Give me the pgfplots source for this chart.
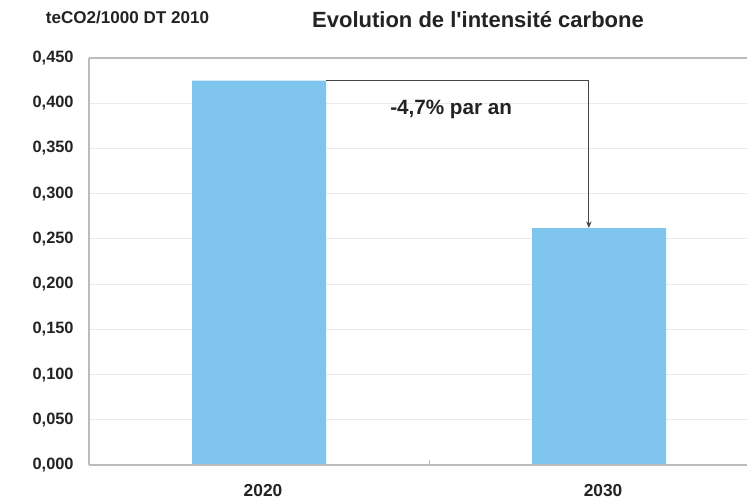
\documentclass[border=0pt]{standalone}
\usepackage{fontspec}
\setmainfont{Liberation Sans}
\usepackage{pgfplots}
\usepackage{pgfplotstable}
\pgfplotsset{compat=1.18}
\usetikzlibrary{arrows.meta}

\definecolor{barblue}{RGB}{128,197,238}
\definecolor{gridgray}{RGB}{234,234,234}
\definecolor{framegray}{RGB}{188,188,188}
\definecolor{txt}{RGB}{35,35,35}

% Carbon intensity (teCO2 per 1000 DT of 2010)
\pgfplotstableread{
x val
0 0.425
1 0.262
}\intensite

\begin{document}
\begin{tikzpicture}
\begin{axis}[
  at={(66.75pt,26.25pt)}, anchor=south west,
  scale only axis,
  width=493.5pt, height=305.25pt,
  xmin=-0.5, xmax=1.435,
  ymin=0, ymax=0.45,
  ybar, bar width=100.5pt,
  xtick={0,1}, xticklabels={2020,2030},
  ytick={0,0.05,0.10,0.15,0.20,0.25,0.30,0.35,0.40,0.45},
  /pgf/number format/assume math mode=true,
  /pgf/number format/fixed,
  /pgf/number format/fixed zerofill,
  /pgf/number format/precision=3,
  /pgf/number format/use comma,
  yticklabel style={font=\bfseries\fontsize{12.3}{14}\selectfont, text=txt, xshift=-8pt},
  xticklabel style={font=\bfseries\fontsize{13}{14}\selectfont, text=txt, yshift=-7pt, xshift=3pt},
  ymajorgrids, grid style={gridgray, line width=0.9pt},
  axis line style={draw=none},
  major tick style={draw=none},
  clip=false,
]
\addplot[fill=barblue, draw=none] table[x=x, y=val]{\intensite};

% frame of the plot area (left, top, bottom)
\draw[framegray, line width=0.8pt] (axis cs:-0.5,0) -- (axis cs:-0.5,0.45);
\draw[framegray, line width=1.4pt] (axis cs:-0.5,0.45) -- (axis cs:1.435,0.45);
\draw[framegray, line width=1.6pt] (axis cs:-0.5,0) -- (axis cs:1.435,0);
\draw[framegray, line width=0.8pt] (axis cs:0.5,0) -- (axis cs:0.5,0.006);

% yearly decrease bracket
\draw[txt!85, line width=0.9pt, -{Stealth[length=5pt,width=4pt]}]
  (axis cs:0.197,0.425) -- (axis cs:0.97,0.425) -- (axis cs:0.97,0.262);
\node[font=\bfseries\fontsize{15.5}{18}\selectfont, text=txt] at (axis cs:0.565,0.393) {-4,7\% par an};
\end{axis}

\node[font=\bfseries\fontsize{16.5}{20}\selectfont, text=txt] at (358.5pt,360pt) {Evolution de l\textquotesingle intensité carbone};
\node[font=\bfseries\fontsize{12.8}{15}\selectfont, text=txt] at (95.6pt,362.25pt) {teCO2/1000 DT 2010};

\pgfresetboundingbox
\useasboundingbox (0,0) rectangle (560.25pt,375pt);
\end{tikzpicture}
\end{document}
